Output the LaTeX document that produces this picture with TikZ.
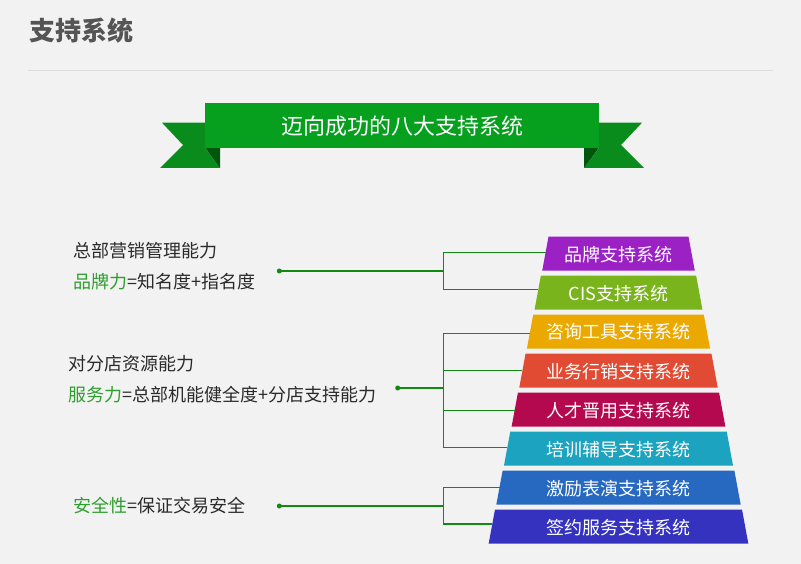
\documentclass[tikz,border=0pt]{standalone}
\usepackage{fontspec}
\setmainfont{Noto Sans CJK SC}
\definecolor{bg}{HTML}{F2F2F2}
\definecolor{titlegray}{HTML}{555555}
\definecolor{sepgray}{HTML}{DCDCDC}
\definecolor{txtdark}{HTML}{2A2A2A}
\definecolor{txtgreen}{HTML}{2E9E2E}
\definecolor{conngreen}{HTML}{128A12}
\definecolor{banmain}{HTML}{06A01E}
\definecolor{bantail}{HTML}{0A8C1C}
\definecolor{banfold}{HTML}{00560A}
\definecolor{cA}{HTML}{9B21C5}
\definecolor{cB}{HTML}{7AB41D}
\definecolor{cC}{HTML}{EBA900}
\definecolor{cD}{HTML}{E14B33}
\definecolor{cE}{HTML}{B5094F}
\definecolor{cF}{HTML}{1CA3BF}
\definecolor{cG}{HTML}{2768C0}
\definecolor{cH}{HTML}{3532BF}
\begin{document}
\begin{tikzpicture}[x=1pt,y=-1pt,
  bandtxt/.style={inner sep=0pt, text=white, font=\fontsize{18}{20}\selectfont},
  lefttxt/.style={inner sep=0pt, anchor=west, text=txtdark, font=\fontsize{18}{20}\selectfont},
  conn/.style={draw=conngreen, line width=1.2pt},
  dot/.style={circle, fill=conngreen, inner sep=0pt, minimum size=5pt}]
\useasboundingbox (0,0) rectangle (801,564);
\fill[bg] (0,0) rectangle (801,564);
% title
\node[inner sep=0pt, anchor=west, text=titlegray, font=\fontsize{26}{28}\selectfont\bfseries] (title) at (29,31) {支持系统};
\draw[sepgray, line width=1pt] (28,70.5) -- (773,70.5);
% banner
\fill[bantail] (162,122.7) -- (205,122.7) -- (205,148) -- (220,168) -- (160,168) -- (183,145) -- cycle;
\fill[bantail] (642,122.7) -- (599,122.7) -- (599,148) -- (584,168) -- (644,168) -- (621,145) -- cycle;
\fill[banfold] (205,147.7) -- (220,147.7) -- (220,168) -- cycle;
\fill[banfold] (599,147.7) -- (584,147.7) -- (584,168) -- cycle;
\fill[banmain] (205,102.7) rectangle (599,147.7);
\node[inner sep=0pt, text=white, font=\fontsize{22}{24}\selectfont] (bantitle) at (402,126) {迈向成功的八大支持系统};
% pyramid bands
\foreach \i/\col/\cy/\txt in {0/cA/252.3/品牌支持系统,1/cB/289.3/CIS支持系统,2/cC/333.3/咨询工具支持系统,3/cD/370.3/业务行销支持系统,4/cE/410.3/人才晋用支持系统,5/cF/447.3/培训辅导支持系统,6/cG/487.3/激励表演支持系统,7/cH/524/签约服务支持系统}{
  \pgfmathsetmacro\bandtop{236.7+39*\i}
  \pgfmathsetmacro\bandbot{\bandtop+34}
  \pgfmathsetmacro\hwtop{70+7.65*\i}
  \pgfmathsetmacro\hwbot{\hwtop+6.3}
  \pgfmathsetmacro\hwc{\hwtop+6.3*(\cy-\bandtop)/34}
  \fill[\col] (618.5-\hwtop,\bandtop) -- (618.5+\hwtop,\bandtop) -- (618.5+\hwbot,\bandbot) -- (618.5-\hwbot,\bandbot) -- cycle;
  \node[bandtxt] (b\i) at (618.5,\bandtop+17.5) {\txt};
  \coordinate (bl\i) at (618.5-\hwc,\cy);
}
% left texts
\node[lefttxt] (t1) at (73.3,250.7) {总部营销管理能力};
\node[lefttxt] (t2) at (73.3,281.7) {\textcolor{txtgreen}{品牌力}=知名度+指名度};
\node[lefttxt] (t3) at (68.3,363.3) {对分店资源能力};
\node[lefttxt] (t4) at (68.3,395) {\textcolor{txtgreen}{服务力}=总部机能健全度+分店支持能力};
\node[lefttxt] (t5) at (73.3,506) {\textcolor{txtgreen}{安全性}=保证交易安全};
% connectors
\node[dot] (d1) at (279.3,271) {};
\node[dot] (d2) at (397.7,388) {};
\node[dot] (d3) at (279.3,506) {};
\coordinate (k1) at (443.3,271);
\coordinate (k2) at (443.3,388);
\coordinate (k3) at (443.3,506);
\draw[conn] (d1.center) -- (k1) (k1) |- (bl0) (k1) |- (bl1);
\draw[conn] (d2.center) -- (k2) (k2) |- (bl2) (k2) |- (bl3) (k2) |- (bl4) (k2) |- (bl5);
\draw[conn] (d3.center) -- (k3) (k3) |- (bl6) (k3) |- (bl7);
\end{tikzpicture}
\end{document}
